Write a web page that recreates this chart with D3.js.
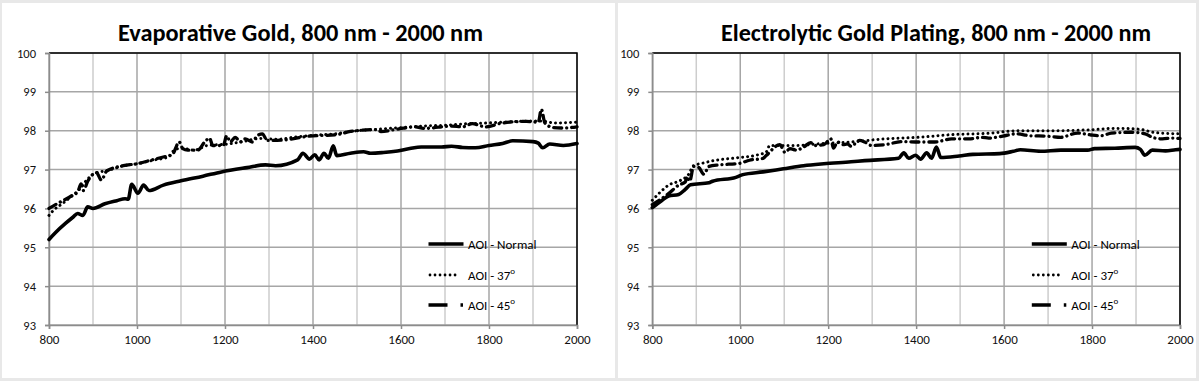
<!DOCTYPE html>
<html>
<head>
<meta charset="utf-8">
<script src="https://cdn.jsdelivr.net/npm/d3@7"></script>
<style>
  html, body { margin: 0; padding: 0; background: #e8e8e8; }
  svg { display: block; }
</style>
</head>
<body>
<svg id="chart" width="1199" height="381"></svg>
<script>
// ---------- Data ----------
const titles = ["Evaporative Gold, 800 nm - 2000 nm", "Electrolytic Gold Plating, 800 nm - 2000 nm"];
const seriesNames = ["AOI - Normal", "AOI - 37", "AOI - 45"];
const xTicks = [800, 1000, 1200, 1400, 1600, 1800, 2000];
const yTicks = [93, 94, 95, 96, 97, 98, 99, 100];

// Evaporative gold
const evapNormalWl = [800,815,838,855,865,877,888,900,927,954,973,980,988,1002,1015,1027,1060,1100,1150,1192,1250,1292,1315,1365,1377,1392,1404,1414,1425,1435,1446,1454,1485,1515,1531,1560,1592,1620,1646,1692,1715,1740,1769,1800,1831,1854,1900,1912,1922,1938,1969,2000];
const evapNormal   = [95.2,95.38,95.62,95.78,95.87,95.82,96.04,96.0,96.12,96.2,96.25,96.24,96.62,96.39,96.6,96.46,96.6,96.71,96.83,96.94,97.05,97.12,97.1,97.25,97.42,97.27,97.38,97.25,97.42,97.29,97.61,97.36,97.42,97.46,97.42,97.44,97.48,97.54,97.58,97.58,97.6,97.57,97.56,97.62,97.67,97.74,97.72,97.68,97.56,97.66,97.62,97.67];

const evap37Wl = [800,810,830,850,870,885,900,920,940,970,1000,1040,1070,1085,1100,1130,1160,1200,1240,1280,1320,1360,1400,1450,1500,1550,1600,1650,1700,1750,1800,1850,1900,1920,1950,2000];
const evap37   = [95.82,95.95,96.12,96.3,96.5,96.72,96.88,96.95,97.0,97.1,97.15,97.25,97.32,97.5,97.55,97.5,97.62,97.65,97.72,97.8,97.78,97.84,97.88,97.92,98.0,98.04,98.08,98.12,98.14,98.18,98.2,98.23,98.25,98.25,98.2,98.22];

const evap45Wl = [800,823,840,855,865,873,878,888,900,908,919,931,969,1000,1031,1062,1080,1096,1104,1115,1138,1154,1165,1172,1196,1204,1212,1223,1235,1246,1262,1273,1285,1296,1331,1392,1454,1485,1546,1554,1592,1631,1654,1715,1740,1762,1792,1831,1885,1912,1919,1927,1946,1969,2000];
const evap45   = [96.0,96.15,96.25,96.35,96.42,96.63,96.46,96.7,96.88,96.92,96.73,96.96,97.1,97.15,97.24,97.33,97.38,97.71,97.54,97.5,97.5,97.71,97.81,97.62,97.62,97.87,97.71,97.83,97.71,97.79,97.71,97.87,97.92,97.75,97.76,97.86,97.9,97.98,98.03,97.98,98.04,98.1,98.06,98.12,98.1,98.18,98.1,98.2,98.24,98.22,98.55,98.2,98.08,98.07,98.1];

// Electrolytic gold plating
const elecNormalWl = [800,821,837,860,875,887,929,937,990,1006,1052,1098,1144,1190,1252,1283,1360,1372,1383,1399,1410,1424,1435,1446,1456,1498,1529,1590,1621,1637,1683,1729,1790,1806,1852,1898,1910,1920,1937,1967,1990,2000];
const elecNormal   = [96.02,96.2,96.32,96.36,96.49,96.61,96.66,96.7,96.8,96.87,96.94,97.02,97.1,97.15,97.2,97.23,97.29,97.43,97.29,97.37,97.27,97.43,97.29,97.58,97.31,97.35,97.39,97.41,97.47,97.51,97.47,97.5,97.5,97.54,97.55,97.57,97.52,97.37,97.5,97.48,97.51,97.52];

const elec37Wl = [800,821,837,860,882,894,913,944,990,1040,1059,1067,1098,1128,1175,1252,1328,1405,1482,1560,1636,1713,1790,1852,1906,1944,2000];
const elec37   = [96.21,96.45,96.6,96.7,96.87,97.1,97.16,97.24,97.3,97.38,97.45,97.62,97.62,97.62,97.66,97.71,97.79,97.83,97.9,97.93,98.0,98.0,98.02,98.06,98.04,97.95,97.92];

const elec45Wl = [800,837,860,875,879,885,894,906,917,929,952,998,1021,1052,1059,1090,1102,1113,1128,1144,1160,1171,1190,1206,1212,1221,1233,1244,1252,1271,1283,1298,1329,1367,1406,1442,1481,1520,1550,1565,1597,1627,1660,1698,1729,1767,1798,1821,1844,1890,1921,1937,1960,1983,2000];
const elec45   = [96.1,96.38,96.6,96.68,96.82,96.7,97.08,97.05,96.88,97.08,97.12,97.16,97.24,97.29,97.36,97.64,97.44,97.54,97.5,97.58,97.69,97.62,97.64,97.79,97.55,97.71,97.64,97.66,97.6,97.75,97.71,97.62,97.64,97.72,97.71,97.71,97.79,97.79,97.83,97.81,97.86,97.92,97.87,97.86,97.83,97.94,97.89,97.87,97.94,97.96,97.92,97.83,97.79,97.81,97.8];

// ---------- Drawing ----------
const svg = d3.select("#chart");

const panels = [
  { bx: 2, bw: 613, x0: 49, x1: 577, titleX0: 118, titleX1: 483,
    series: [[evapNormalWl, evapNormal], [evap37Wl, evap37], [evap45Wl, evap45]] },
  { bx: 618, bw: 578, x0: 652.3, x1: 1180, titleX0: 721, titleX1: 1151,
    series: [[elecNormalWl, elecNormal], [elec37Wl, elec37], [elec45Wl, elec45]] }
];

const styles = [
  { width: 3.6, dash: null, cap: "round" },
  { width: 3.0, dash: "0.01,5", cap: "round" },
  { width: 3.3, dash: "8,5,0.01,5", cap: "round" }
];

const tickFont = "Carlito, Calibri, 'Liberation Sans', Arial, sans-serif";

panels.forEach((p, pi) => {
  const g = svg.append("g");
  g.append("rect").attr("x", p.bx).attr("y", 3).attr("width", p.bw).attr("height", 375).attr("fill", "#fff");

  const x = d3.scaleLinear().domain([800, 2000]).range([p.x0, p.x1]);
  const y = d3.scaleLinear().domain([93, 100]).range([325, 53]);

  // title
  g.append("text")
    .attr("x", p.titleX0).attr("y", 41)
    .attr("font-family", "Carlito, Calibri, Lato, sans-serif")
    .attr("font-weight", "bold").attr("font-size", 24)
    .attr("textLength", p.titleX1 - p.titleX0)
    .attr("lengthAdjust", "spacingAndGlyphs")
    .attr("fill", "#000").text(titles[pi]);

  // vertical gridlines
  const vx = d3.range(800, 2001, 100);
  g.selectAll(".vg").data(vx).enter().append("line")
    .attr("x1", d => x(d)).attr("x2", d => x(d))
    .attr("y1", y(100)).attr("y2", y(93))
    .attr("stroke", d => (d % 200 === 0) ? "#a6a6a6" : "#cdcdcd")
    .attr("stroke-width", 1.5);
  // horizontal gridlines
  g.selectAll(".hg").data(yTicks).enter().append("line")
    .attr("x1", x(800)).attr("x2", x(2000))
    .attr("y1", d => y(d)).attr("y2", d => y(d))
    .attr("stroke", "#a6a6a6").attr("stroke-width", 1.5);

  // border top/right black
  g.append("path")
    .attr("d", `M${x(800)},${y(100)}H${x(2000)}V${y(93)}`)
    .attr("fill", "none").attr("stroke", "#000").attr("stroke-width", 1.5);

  // axes
  const xAxis = d3.axisBottom(x).tickValues(xTicks).tickFormat(d3.format("d")).tickSize(4).tickPadding(6);
  const yAxis = d3.axisLeft(y).tickValues(yTicks).tickFormat(d3.format("d")).tickSize(4).tickPadding(9);
  const gx = g.append("g").attr("transform", `translate(0,${y(93)})`).call(xAxis);
  const gy = g.append("g").attr("transform", `translate(${x(800)},0)`).call(yAxis);
  [gx, gy].forEach(a => {
    a.attr("font-family", tickFont);
    a.select(".domain").attr("stroke", "#8c8c8c").attr("stroke-width", 1.5);
    a.selectAll(".tick line").attr("stroke", "#8c8c8c").attr("stroke-width", 1.5);
    a.selectAll("text").attr("font-family", tickFont).attr("fill", "#111");
  });
  gx.selectAll("text").attr("font-size", 13);
  gy.selectAll("text").attr("font-size", 12.5);

  // series
  const line = d3.line().x(d => x(d[0])).y(d => y(d[1])).curve(d3.curveMonotoneX);
  [2, 1, 0].forEach(i => {
    const [wl, vals] = p.series[i];
    const pts = wl.map((w, k) => [w, vals[k]]);
    const st = styles[i];
    g.append("path").datum(pts)
      .attr("d", line)
      .attr("fill", "none").attr("stroke", "#000")
      .attr("stroke-width", st.width)
      .attr("stroke-linecap", st.cap)
      .attr("stroke-linejoin", "round")
      .attr("stroke-dasharray", st.dash);
  });

  // legend
  const lx0 = p.x0 + 379.5;
  const tx = p.x0 + 419;
  const rows = [244, 275, 305];
  g.append("line").attr("x1", lx0).attr("x2", lx0 + 35).attr("y1", rows[0]).attr("y2", rows[0])
    .attr("stroke", "#000").attr("stroke-width", 3.5);
  g.append("line").attr("x1", lx0 + 1.5).attr("x2", lx0 + 27).attr("y1", rows[1]).attr("y2", rows[1])
    .attr("stroke", "#000").attr("stroke-width", 2.8).attr("stroke-linecap", "round")
    .attr("stroke-dasharray", "0.01,5");
  g.append("line").attr("x1", lx0).attr("x2", lx0 + 35).attr("y1", rows[2]).attr("y2", rows[2])
    .attr("stroke", "#000").attr("stroke-width", 3.5)
    .attr("stroke-dasharray", "19,13,2.5,10");

  rows.forEach((ry, i) => {
    const t = g.append("text").attr("x", tx).attr("y", ry + 4.5)
      .attr("font-family", tickFont)
      .attr("font-size", 13).attr("fill", "#000");
    t.append("tspan").text(seriesNames[i]);
    if (i > 0) {
      t.append("tspan").attr("font-size", 9).attr("dy", -5.5).text("o");
    }
  });
});
</script>
</body>
</html>
